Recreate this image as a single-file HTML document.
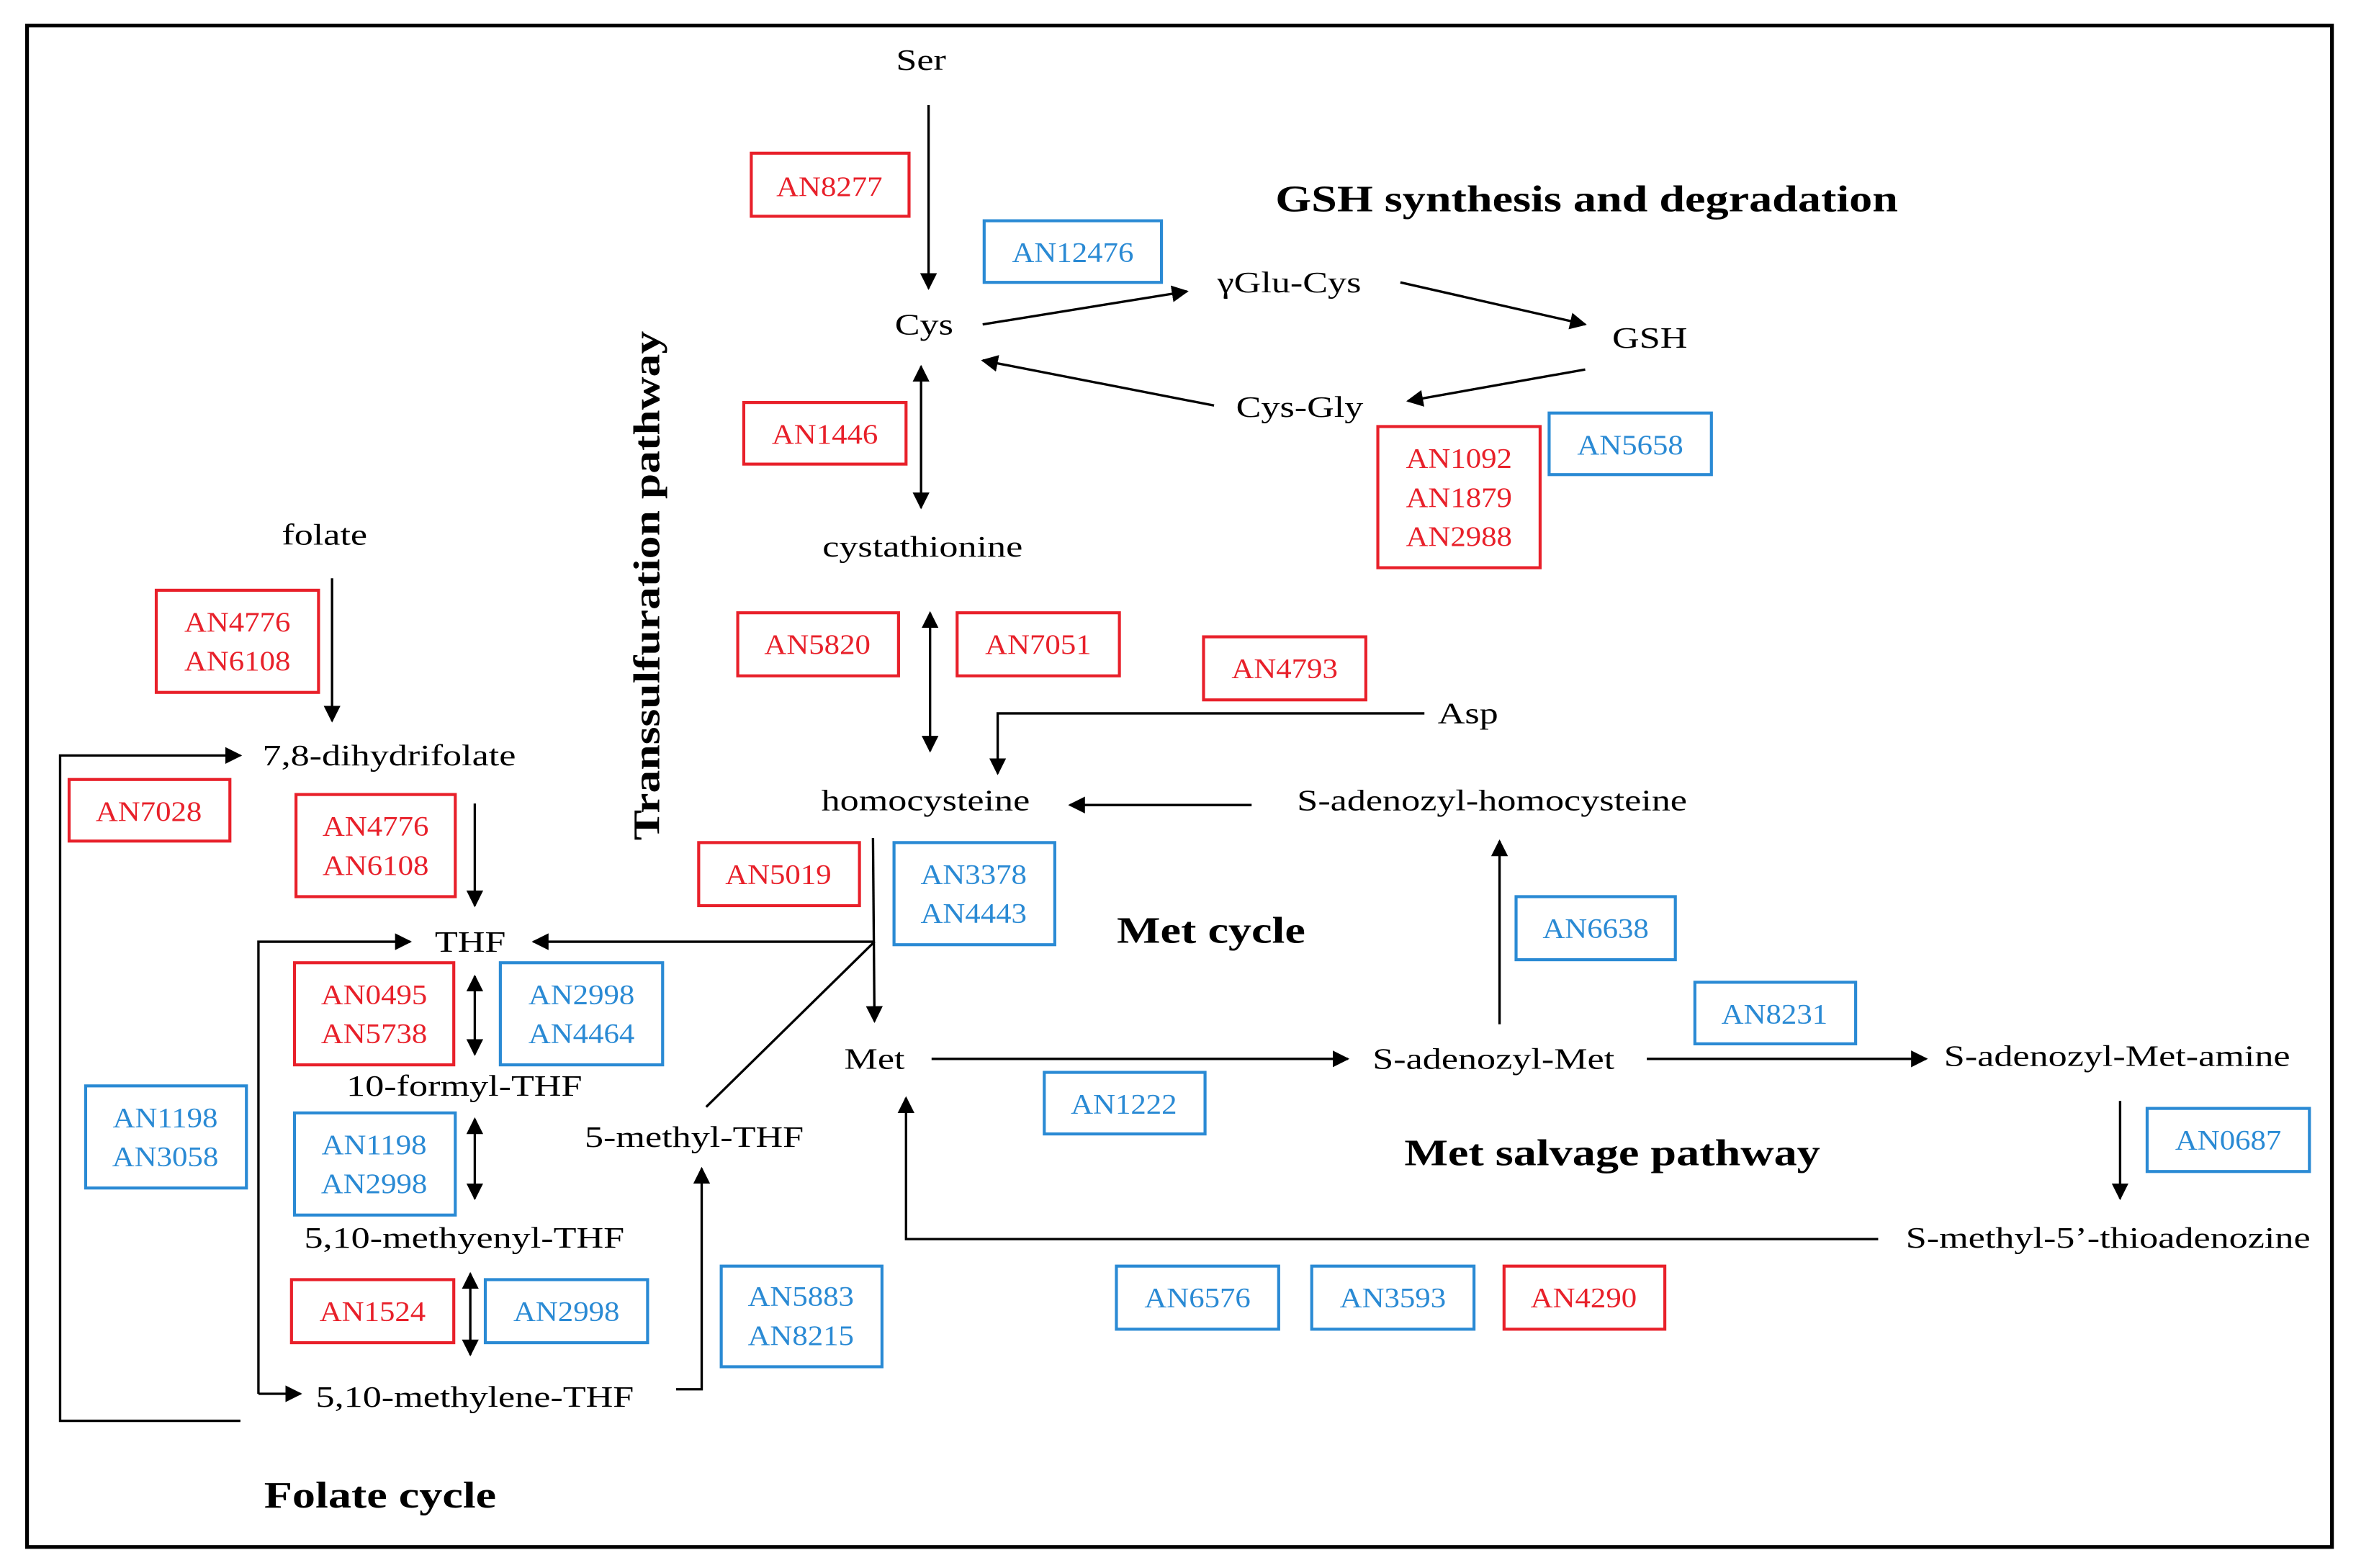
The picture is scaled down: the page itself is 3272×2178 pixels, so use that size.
<!DOCTYPE html>
<html><head><meta charset="utf-8"><style>
html,body{margin:0;padding:0;background:#fff;}
svg{display:block;}
text{font-family:"Liberation Serif",serif;}
.t{font-size:20px;fill:#000;text-anchor:middle;dominant-baseline:middle;transform-box:fill-box;transform-origin:center;transform:scaleX(1.25);}
.b{font-size:25px;font-weight:bold;fill:#000;text-anchor:middle;dominant-baseline:middle;transform-box:fill-box;transform-origin:center;transform:scaleX(1.23);}
.bv{font-size:25px;font-weight:bold;fill:#000;text-anchor:middle;dominant-baseline:middle;}
.r{fill:none;stroke:#e8202a;stroke-width:2;}
.u{fill:none;stroke:#2a8ad4;stroke-width:2;}
.rt{font-size:19px;fill:#e8202a;text-anchor:middle;dominant-baseline:middle;transform-box:fill-box;transform-origin:center;transform:scaleX(1.08);}
.ut{font-size:19px;fill:#2a8ad4;text-anchor:middle;dominant-baseline:middle;transform-box:fill-box;transform-origin:center;transform:scaleX(1.08);}
.l{fill:none;stroke:#000;stroke-width:1.6;}
</style></head><body>
<svg width="3272" height="2178" viewBox="0 0 1568 1044" preserveAspectRatio="none" xmlns="http://www.w3.org/2000/svg">
<defs><marker id="a" viewBox="0 0 10 10" refX="9" refY="5" markerWidth="7" markerHeight="7" orient="auto-start-reverse"><path d="M0,0L10,5L0,10z" fill="#000"/></marker></defs>
<rect x="18" y="17" width="1534" height="1013" fill="none" stroke="#000" stroke-width="2.5"/>
<g transform="translate(0,2)">
<text class="t" x="613" y="40">Ser</text>
<text class="t" x="615" y="216">Cys</text>
<text class="t" x="858" y="188">γGlu-Cys</text>
<text class="t" x="1098" y="225">GSH</text>
<text class="t" x="865" y="271">Cys-Gly</text>
<text class="t" x="614" y="364">cystathionine</text>
<text class="t" x="216" y="356">folate</text>
<text class="t" x="259" y="503">7,8-dihydrifolate</text>
<text class="t" x="616" y="533">homocysteine</text>
<text class="t" x="993" y="533">S-adenozyl-homocysteine</text>
<text class="t" x="977" y="475">Asp</text>
<text class="t" x="313" y="627">THF</text>
<text class="t" x="582" y="705">Met</text>
<text class="t" x="994" y="705">S-adenozyl-Met</text>
<text class="t" x="1409" y="703">S-adenozyl-Met-amine</text>
<text class="t" x="309" y="723">10-formyl-THF</text>
<text class="t" x="462" y="757">5-methyl-THF</text>
<text class="t" x="309" y="824">5,10-methyenyl-THF</text>
<text class="t" x="1403" y="824">S-methyl-5’-thioadenozine</text>
<text class="t" x="316" y="930">5,10-methylene-THF</text>
<text class="b" x="1056" y="133">GSH synthesis and degradation</text>
<text class="b" x="806" y="620">Met cycle</text>
<text class="b" x="1073" y="768">Met salvage pathway</text>
<text class="b" x="253" y="996">Folate cycle</text>
</g>
<text class="bv" transform="translate(433,390) rotate(-90) scale(1.22,1)">Transsulfuration pathway</text>

<g>
<rect class="r" x="500" y="102" width="105" height="42"/>
<rect class="u" x="655" y="147" width="118" height="41"/>
<rect class="r" x="495" y="268" width="108" height="41"/>
<rect class="r" x="917" y="284" width="108" height="94"/>
<rect class="u" x="1031" y="275" width="108" height="41"/>
<rect class="r" x="104" y="393" width="108" height="68"/>
<rect class="r" x="491" y="408" width="107" height="42"/>
<rect class="r" x="637" y="408" width="108" height="42"/>
<rect class="r" x="801" y="424" width="108" height="42"/>
<rect class="r" x="46" y="519" width="107" height="41"/>
<rect class="r" x="197" y="529" width="106" height="68"/>
<rect class="r" x="465" y="561" width="107" height="42"/>
<rect class="u" x="595" y="561" width="107" height="68"/>
<rect class="u" x="1009" y="597" width="106" height="42"/>
<rect class="r" x="196" y="641" width="106" height="68"/>
<rect class="u" x="333" y="641" width="108" height="68"/>
<rect class="u" x="1128" y="654" width="107" height="41"/>
<rect class="u" x="695" y="714" width="107" height="41"/>
<rect class="u" x="57" y="723" width="107" height="68"/>
<rect class="u" x="196" y="741" width="107" height="68"/>
<rect class="u" x="1429" y="738" width="108" height="42"/>
<rect class="u" x="480" y="843" width="107" height="67"/>
<rect class="r" x="194" y="852" width="108" height="42"/>
<rect class="u" x="323" y="852" width="108" height="42"/>
<rect class="u" x="743" y="843" width="108" height="42"/>
<rect class="u" x="873" y="843" width="108" height="42"/>
<rect class="r" x="1001" y="843" width="107" height="42"/>
</g>
<g transform="translate(0,2)">
<text class="rt" x="552" y="124">AN8277</text>
<text class="ut" x="714" y="168">AN12476</text>
<text class="rt" x="549" y="289">AN1446</text>
<text class="rt" x="971" y="305">AN1092</text><text class="rt" x="971" y="331">AN1879</text><text class="rt" x="971" y="357">AN2988</text>
<text class="ut" x="1085" y="296">AN5658</text>
<text class="rt" x="158" y="414">AN4776</text><text class="rt" x="158" y="440">AN6108</text>
<text class="rt" x="544" y="429">AN5820</text>
<text class="rt" x="691" y="429">AN7051</text>
<text class="rt" x="855" y="445">AN4793</text>
<text class="rt" x="99" y="540">AN7028</text>
<text class="rt" x="250" y="550">AN4776</text><text class="rt" x="250" y="576">AN6108</text>
<text class="rt" x="518" y="582">AN5019</text>
<text class="ut" x="648" y="582">AN3378</text><text class="ut" x="648" y="608">AN4443</text>
<text class="ut" x="1062" y="618">AN6638</text>
<text class="rt" x="249" y="662">AN0495</text><text class="rt" x="249" y="688">AN5738</text>
<text class="ut" x="387" y="662">AN2998</text><text class="ut" x="387" y="688">AN4464</text>
<text class="ut" x="1181" y="675">AN8231</text>
<text class="ut" x="748" y="735">AN1222</text>
<text class="ut" x="110" y="744">AN1198</text><text class="ut" x="110" y="770">AN3058</text>
<text class="ut" x="249" y="762">AN1198</text><text class="ut" x="249" y="788">AN2998</text>
<text class="ut" x="1483" y="759">AN0687</text>
<text class="ut" x="533" y="863">AN5883</text><text class="ut" x="533" y="889">AN8215</text>
<text class="rt" x="248" y="873">AN1524</text>
<text class="ut" x="377" y="873">AN2998</text>
<text class="ut" x="797" y="864">AN6576</text>
<text class="ut" x="927" y="864">AN3593</text>
<text class="rt" x="1054" y="864">AN4290</text>
</g>

<g class="l">
<path d="M618,70V192" marker-end="url(#a)"/>
<path d="M654,216L790,194" marker-end="url(#a)"/>
<path d="M932,188L1055,216" marker-end="url(#a)"/>
<path d="M1055,246L937,267" marker-end="url(#a)"/>
<path d="M808,270L654,240" marker-end="url(#a)"/>
<path d="M613,244V338" marker-start="url(#a)" marker-end="url(#a)"/>
<path d="M619,408V500" marker-start="url(#a)" marker-end="url(#a)"/>
<path d="M948,475H664V515" marker-end="url(#a)"/>
<path d="M833,536H712" marker-end="url(#a)"/>
<path d="M581,558L582,680" marker-end="url(#a)"/>
<path d="M582,627H355" marker-end="url(#a)"/>
<path d="M582,627L470,737"/>
<path d="M620,705H897" marker-end="url(#a)"/>
<path d="M998,682V560" marker-end="url(#a)"/>
<path d="M1096,705H1282" marker-end="url(#a)"/>
<path d="M1411,733V798" marker-end="url(#a)"/>
<path d="M1250,825H603V731" marker-end="url(#a)"/>
<path d="M221,385V480" marker-end="url(#a)"/>
<path d="M316,535V603" marker-end="url(#a)"/>
<path d="M316,650V702" marker-start="url(#a)" marker-end="url(#a)"/>
<path d="M316,745V798" marker-start="url(#a)" marker-end="url(#a)"/>
<path d="M313,848V902" marker-start="url(#a)" marker-end="url(#a)"/>
<path d="M450,925H467V778" marker-end="url(#a)"/>
<path d="M160,946H40V503H160" marker-end="url(#a)"/>
<path d="M172,928V627H273" marker-end="url(#a)"/>
<path d="M172,928H200" marker-end="url(#a)"/>
</g>
</svg>
</body></html>
